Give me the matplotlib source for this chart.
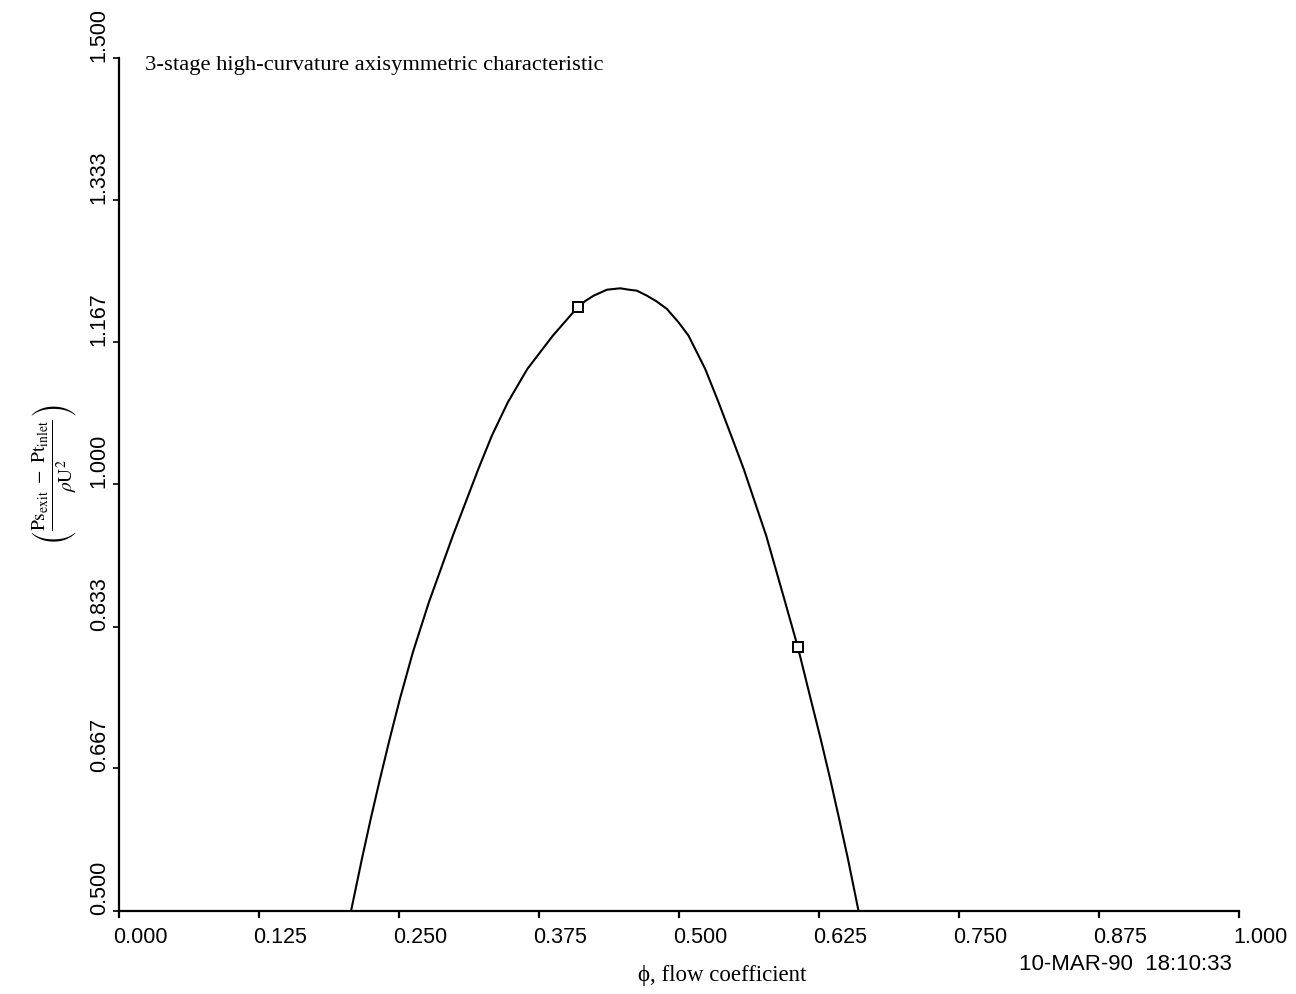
import matplotlib
matplotlib.use("Agg")
import matplotlib.pyplot as plt
from matplotlib.transforms import ScaledTranslation

# ---- data ----
phi_curve = [0.20688, 0.21652, 0.22437, 0.23268, 0.24134, 0.25045, 0.26205, 0.27634,
             0.29777, 0.32054, 0.33259, 0.34688, 0.36429, 0.38705, 0.40920, 0.41607,
             0.42348, 0.43545, 0.44732, 0.45446, 0.46223, 0.47116, 0.47991, 0.48902,
             0.49938, 0.50830, 0.52321, 0.53509, 0.54643, 0.55759, 0.57768, 0.59464,
             0.60598, 0.61741, 0.62634, 0.63482, 0.64286, 0.65071, 0.66009]
psi_curve = [0.50000, 0.56063, 0.60754, 0.65445, 0.70136, 0.74827, 0.80304, 0.86168,
             0.93978, 1.01800, 1.05705, 1.09622, 1.13527, 1.17433, 1.20763, 1.21502,
             1.22124, 1.22828, 1.22992, 1.22840, 1.22710, 1.22124, 1.21443, 1.20564,
             1.19004, 1.17433, 1.13527, 1.09622, 1.05705, 1.01800, 0.93978, 0.86168,
             0.80890, 0.74827, 0.70136, 0.65445, 0.60754, 0.56063, 0.50000]

phi_points = [0.4092, 0.6060]
psi_points = [1.2076, 0.8089]

x_ticks = [0.000, 0.125, 0.250, 0.375, 0.500, 0.625, 0.750, 0.875, 1.000]
x_ticklabels = ["0.000", "0.125", "0.250", "0.375", "0.500", "0.625", "0.750", "0.875", "1.000"]
y_ticks = [0.500, 0.667, 0.833, 1.000, 1.167, 1.333, 1.500]
y_ticklabels = ["0.500", "0.667", "0.833", "1.000", "1.167", "1.333", "1.500"]

title_text = "3-stage high-curvature axisymmetric characteristic"
xlabel_text = "\u03d5, flow coefficient"
date_text = "10-MAR-90  18:10:33"

plt.rcParams['mathtext.fontset'] = 'stix'

W, H = 1296, 995
fig = plt.figure(figsize=(W / 100, H / 100), dpi=100)
ax = fig.add_axes([119.5 / W, 1 - 911.7 / H, (1239 - 119.5) / W, (911.7 - 59) / H])

ax.plot(phi_curve, psi_curve, color='black', lw=1.5, solid_joinstyle='round')
ax.plot(phi_points, psi_points, linestyle='none', marker='s', ms=6.5,
        mfc='white', mec='black', mew=1.4)

ax.set_xlim(0, 1)
ax.set_ylim(0.5, 1.5)
for s in ['top', 'right']:
    ax.spines[s].set_visible(False)
for s in ['left', 'bottom']:
    ax.spines[s].set_linewidth(1.6)
    ax.spines[s].set_color('black')

tick_font = dict(family=['Liberation Sans', 'DejaVu Sans'], size=15.5)
ax.set_xticks(x_ticks)
ax.set_xticklabels(x_ticklabels, ha='left', **tick_font)
ax.tick_params(axis='x', direction='out', length=5, width=1.6, pad=6)
for lab in ax.get_xticklabels():
    lab.set_transform(lab.get_transform() + ScaledTranslation(-6 / 100, 0, fig.dpi_scale_trans))

ax.set_yticks(y_ticks)
ax.set_yticklabels(y_ticklabels, rotation=90, va='bottom', ha='right', **tick_font)
ax.tick_params(axis='y', direction='out', length=4, width=1.2, pad=3)
for lab in ax.get_yticklabels():
    lab.set_transform(lab.get_transform() + ScaledTranslation(0, -3 / 100, fig.dpi_scale_trans))

fig.text(145 / W, 1 - 70 / H, title_text, ha='left', va='baseline',
         family=['Liberation Serif', 'DejaVu Serif'], size=16.2)
fig.text(722 / W, 1 - 981 / H, xlabel_text, ha='center', va='baseline',
         family=['Liberation Serif', 'DejaVu Serif'], size=16.5)
fig.text(1232 / W, 1 - 970 / H, date_text, ha='right', va='baseline',
         family=['Liberation Sans', 'DejaVu Sans'], size=16)

ylab = (r'$\left(\frac{\mathrm{Ps}_{\mathrm{exit}}\ -\ \mathrm{Pt}_{\mathrm{inlet}}}'
        r'{\rho\mathrm{U}^2}\right)$')
fig.text(55 / W, 1 - 475 / H, ylab, rotation=90, ha='center', va='center', size=20)

fig.savefig('out.png', dpi=100)
